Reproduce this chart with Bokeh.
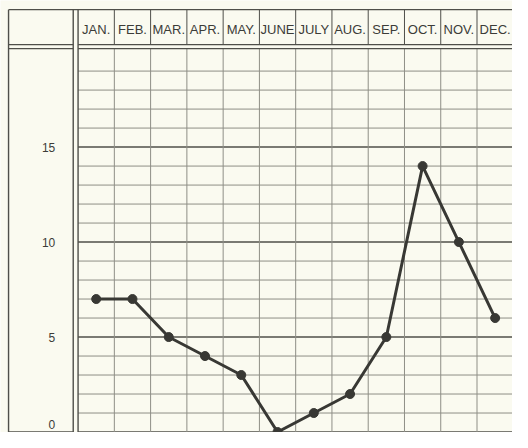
from bokeh.plotting import figure
from bokeh.models import Range1d
from bokeh.core.properties import value
from bokeh.embed import file_html
from bokeh.resources import INLINE

# ---- data ----
months = ["JAN.", "FEB.", "MAR.", "APR.", "MAY.", "JUNE",
          "JULY", "AUG.", "SEP.", "OCT.", "NOV.", "DEC."]
values = [7, 7, 5, 4, 3, 0, 1, 2, 5, 14, 10, 6]
y_ticks = [0, 5, 10, 15]
y_tick_labels = ["0", "5", "10", "15"]
y_grid_max = 20

# ---- layout: positions of the drawing, in pixels of a 528x448 sheet ----
SHEET_W, SHEET_H = 528, 448
W, H = 512, 432            # canvas (sheet scaled to fit)
GRID_LEFT = 80.0           # left edge of the first month column
COL = 37.4                 # width of one month column
ZERO = 447.5               # height of value 0
UNIT = 19.7                # pixels per unit
LABEL_OFFSETS = [-8, 0, 0, 0]   # screen-pixel nudges of the y labels

BG = "#fafaf0"
FRAME = "#4f4f4a"
GRID = "#8e8e86"
INK = "#383834"
TXT = "#3c3c38"


def px_x(px):
    return (px - GRID_LEFT) / COL


def px_y(py):
    return (ZERO - py) / UNIT


p = figure(width=W, height=H,
           x_range=Range1d(px_x(0), px_x(SHEET_W)),
           y_range=Range1d(px_y(SHEET_H), px_y(0)),
           x_axis_type=None, y_axis_type=None,
           output_backend="svg", toolbar_location=None, min_border=0)
p.outline_line_color = None
p.background_fill_color = BG
p.border_fill_color = BG

x_end = px_x(SHEET_W)
y_top = px_y(9.5)
y_hdr = px_y(45.8)
y_grid_top = px_y(50)
y_bot = px_y(SHEET_H)
x_out = px_x(8.3)
x_dbl = px_x(75)

# horizontal grid lines (one per unit)
minor = [v for v in range(1, y_grid_max) if v % 5 != 0]
major = [v for v in range(0, y_grid_max) if v % 5 == 0]
p.segment(x0=[0] * len(minor), x1=[x_end] * len(minor), y0=minor, y1=minor,
          line_color=GRID, line_width=1)
p.segment(x0=[0] * len(major), x1=[x_end] * len(major), y0=major, y1=major,
          line_color=FRAME, line_width=1.4)

# vertical column boundaries (header part and grid part)
bounds = list(range(1, len(months)))
p.segment(x0=bounds, x1=bounds, y0=[y_top] * len(bounds), y1=[y_hdr] * len(bounds),
          line_color=FRAME, line_width=1)
p.segment(x0=bounds, x1=bounds, y0=[y_grid_top] * len(bounds), y1=[y_bot] * len(bounds),
          line_color=GRID, line_width=1)

# frame lines
p.segment(x0=[x_out], x1=[x_end], y0=[y_top], y1=[y_top], line_color=FRAME, line_width=1.4)
p.segment(x0=[x_out, 0], x1=[x_dbl, x_end], y0=[y_hdr, y_hdr], y1=[y_hdr, y_hdr],
          line_color=FRAME, line_width=1.3)
p.segment(x0=[x_out, 0], x1=[x_dbl, x_end], y0=[y_grid_top, y_grid_top],
          y1=[y_grid_top, y_grid_top], line_color=FRAME, line_width=1.3)
p.segment(x0=[x_out], x1=[x_dbl], y0=[0], y1=[0], line_color=FRAME, line_width=1.3)
p.segment(x0=[x_out, x_dbl, 0], x1=[x_out, x_dbl, 0],
          y0=[y_top] * 3, y1=[y_bot] * 3, line_color=FRAME, line_width=1.4)

# header month labels
centers = [i + 0.5 for i in range(len(months))]
p.text(x=centers, y=[px_y(30.5)] * len(months), text=months,
       text_align="center", text_baseline="middle",
       text_font=value("Liberation Sans"), text_font_size="13px", text_color=TXT)

# y tick labels
p.text(x=[px_x(56.5)] * len(y_ticks), y=y_ticks, text=y_tick_labels,
       y_offset=LABEL_OFFSETS,
       text_align="right", text_baseline="middle",
       text_font=value("Liberation Sans"), text_font_size="12px", text_color=TXT)

# data
p.line(x=centers, y=values, line_color=INK, line_width=3)
p.scatter(x=centers, y=values, size=9, fill_color=INK, line_color=INK)

open("out.html", "w").write(file_html(p, INLINE))
